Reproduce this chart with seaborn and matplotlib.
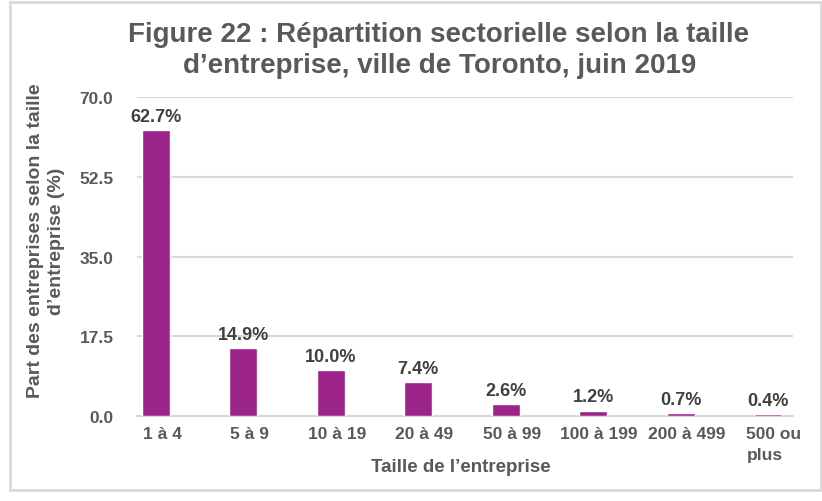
import matplotlib
matplotlib.use("Agg")
import matplotlib.pyplot as plt
import matplotlib.transforms as mtransforms
import seaborn as sns
import pandas as pd
from matplotlib.patches import Rectangle

categories = ['1 à 4', '5 à 9', '10 à 19', '20 à 49', '50 à 99', '100 à 199', '200 à 499', '500 ou\nplus']
values = [62.7, 14.9, 10.0, 7.4, 2.6, 1.2, 0.7, 0.4]
yticks = [0.0, 17.5, 35.0, 52.5, 70.0]

df = pd.DataFrame({'taille': categories, 'part': values})

sns.set_style('white')
plt.rcParams['font.family'] = ['Liberation Sans', 'DejaVu Sans']
grey = '#595959'

fig = plt.figure(figsize=(8.22, 5.02), dpi=100)
ax = fig.add_axes([0.1667, 0.1693, 0.798, 0.6355])

sns.barplot(data=df, x='taille', y='part', color='#9B2389', width=0.32,
            saturation=1, ax=ax, zorder=3)

ax.set_xlim(-0.217, 7.286)
ax.set_ylim(0, 70)
ax.set_yticks(yticks)
ax.set_yticklabels(['%.1f' % t for t in yticks])
ax.yaxis.grid(True, color='#D9D9D9', linewidth=1.5, zorder=0)
ax.set_axisbelow(True)
for s in ['top', 'right', 'left']:
    ax.spines[s].set_visible(False)
ax.spines['bottom'].set_color('#D9D9D9')
ax.spines['bottom'].set_linewidth(1.5)
ax.tick_params(axis='y', length=0, labelsize=12.5, labelcolor=grey, pad=17)
ax.tick_params(axis='x', length=0, labelsize=12.5, labelcolor=grey, pad=7)
ax.set_xticks(range(len(categories)))
ax.set_xticklabels(categories, ha='center', linespacing=1.5)
shift = mtransforms.ScaledTranslation(6 / 100, 0, fig.dpi_scale_trans)
for lab in ax.get_xticklabels():
    lab.set_fontweight('bold')
    lab.set_multialignment('left')
    lab.set_transform(lab.get_transform() + shift)
for lab in ax.get_yticklabels():
    lab.set_fontweight('bold')

for i, v in enumerate(values):
    ax.text(i, v + 2.0, '%.1f%%' % v, ha='center', va='baseline',
            fontsize=13, fontweight='bold', color='#404040')

ax.set_xlabel("Taille de l’entreprise", fontsize=13.5, fontweight='bold', color=grey)
ax.xaxis.set_label_coords(0.494, -0.133)
ax.set_ylabel("Part des entreprises selon la taille\nd’entreprise (%)", fontsize=14,
              fontweight='bold', color=grey, linespacing=1.3)
ax.yaxis.set_label_coords(-0.11, 0.552)

fig.text(0.533, 1 - 42 / 502, "Figure 22 : Répartition sectorielle selon la taille",
         ha='center', va='baseline', fontsize=20, fontweight='bold', color=grey)
fig.text(0.535, 1 - 73 / 502, "d’entreprise, ville de Toronto, juin 2019",
         ha='center', va='baseline', fontsize=20, fontweight='bold', color=grey)

fig.patches.append(Rectangle((0.0122, 0.0219), 0.9866, 0.972, transform=fig.transFigure,
                             fill=False, edgecolor='#D9D9D9', linewidth=2))

fig.savefig('out.png', dpi=100)
